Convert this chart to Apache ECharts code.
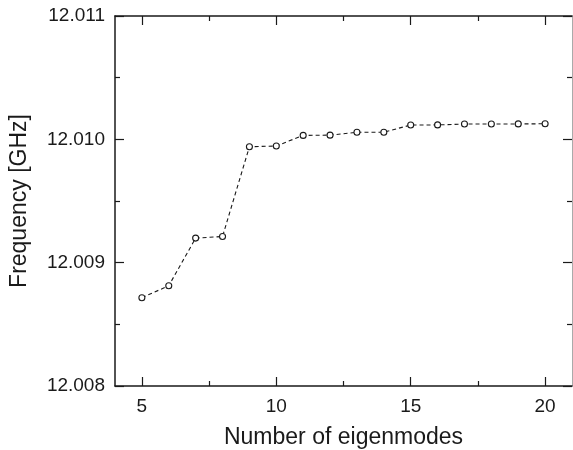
<!DOCTYPE html>
<html>
<head>
<meta charset="utf-8">
<script src="https://cdn.jsdelivr.net/npm/echarts@6/dist/echarts.min.js"></script>
<style>
  html, body { margin: 0; padding: 0; background: #fff; }
  #chart { width: 573px; height: 450px; }
</style>
</head>
<body>
<div id="chart"></div>
<script>
// Frequency vs number of eigenmodes
let modes = [5, 6, 7, 8, 9, 10, 11, 12, 13, 14, 15, 16, 17, 18, 19, 20];
let freqs = [12.008716, 12.008813, 12.009199, 12.009212, 12.009940, 12.009946,
    12.010032, 12.010034, 12.010057, 12.010058, 12.010116, 12.010117,
    12.010124, 12.010124, 12.010125, 12.010126];
let xMajorTicks = [5, 10, 15, 20];
let xMinorTicks = [7.5, 12.5, 17.5];
let yMajorTicks = [12.008, 12.009, 12.010, 12.011];
let yMinorTicks = [12.0085, 12.0095, 12.0105];

let font = '"Liberation Sans", Arial, sans-serif';
let ink = '#1a1a1a';

let chart = echarts.init(document.getElementById('chart'));

function xAx(position, ticks, len, withLine, withLabel) {
    return {
        type: 'value',
        position: position,
        min: 4,
        max: 21,
        name: withLabel ? 'Number of eigenmodes' : '',
        nameLocation: 'middle',
        nameGap: 40,
        nameTextStyle: { fontFamily: font, fontSize: 23, color: ink },
        axisLine: { show: withLine, lineStyle: { color: ink, width: 1.5 } },
        axisTick: {
            show: true,
            inside: true,
            length: len,
            customValues: ticks,
            lineStyle: { color: ink, width: 1.2 },
        },
        axisLabel: {
            show: withLabel,
            customValues: xMajorTicks,
            margin: 11,
            fontFamily: font,
            fontSize: 19,
            color: ink,
        },
        splitLine: { show: false },
    };
}

function yAx(position, ticks, len, lineColor, withLabel) {
    return {
        type: 'value',
        position: position,
        min: 12.008,
        max: 12.011,
        name: withLabel ? 'Frequency [GHz]' : '',
        nameLocation: 'middle',
        nameGap: 84,
        nameTextStyle: { fontFamily: font, fontSize: 23, color: ink },
        axisLine: {
            show: lineColor !== null,
            lineStyle: { color: lineColor || ink, width: withLabel ? 1.5 : 1 },
        },
        axisTick: {
            show: true,
            inside: true,
            length: len,
            customValues: ticks,
            lineStyle: { color: ink, width: 1.2 },
        },
        axisLabel: {
            show: withLabel,
            customValues: yMajorTicks,
            margin: 10,
            fontFamily: font,
            fontSize: 19,
            color: ink,
            formatter: function (v) {
                return v.toFixed(3);
            },
        },
        splitLine: { show: false },
    };
}

let option = {
    animation: false,
    backgroundColor: '#fff',
    grid: { left: 115, right: 1, top: 16, bottom: 64, outerBoundsMode: 'none' },
    xAxis: [
        xAx('bottom', xMajorTicks, 9, true, true),
        xAx('bottom', xMinorTicks, 5, false, false),
        xAx('top', xMajorTicks, 9, true, false),
        xAx('top', xMinorTicks, 5, false, false),
    ],
    yAxis: [
        yAx('left', yMajorTicks, 9, ink, true),
        yAx('left', yMinorTicks, 5, null, false),
        yAx('right', yMajorTicks, 9, '#aaa', false),
        yAx('right', yMinorTicks, 5, null, false),
    ],
    series: [
        {
            type: 'line',
            data: modes.map(function (m, i) {
                return [m, freqs[i]];
            }),
            symbol: 'circle',
            symbolSize: 6,
            itemStyle: { color: '#fff', borderColor: ink, borderWidth: 1.1 },
            lineStyle: { color: ink, width: 1.1, type: [4, 3] },
        },
    ],
};

chart.setOption(option);
</script>
</body>
</html>
